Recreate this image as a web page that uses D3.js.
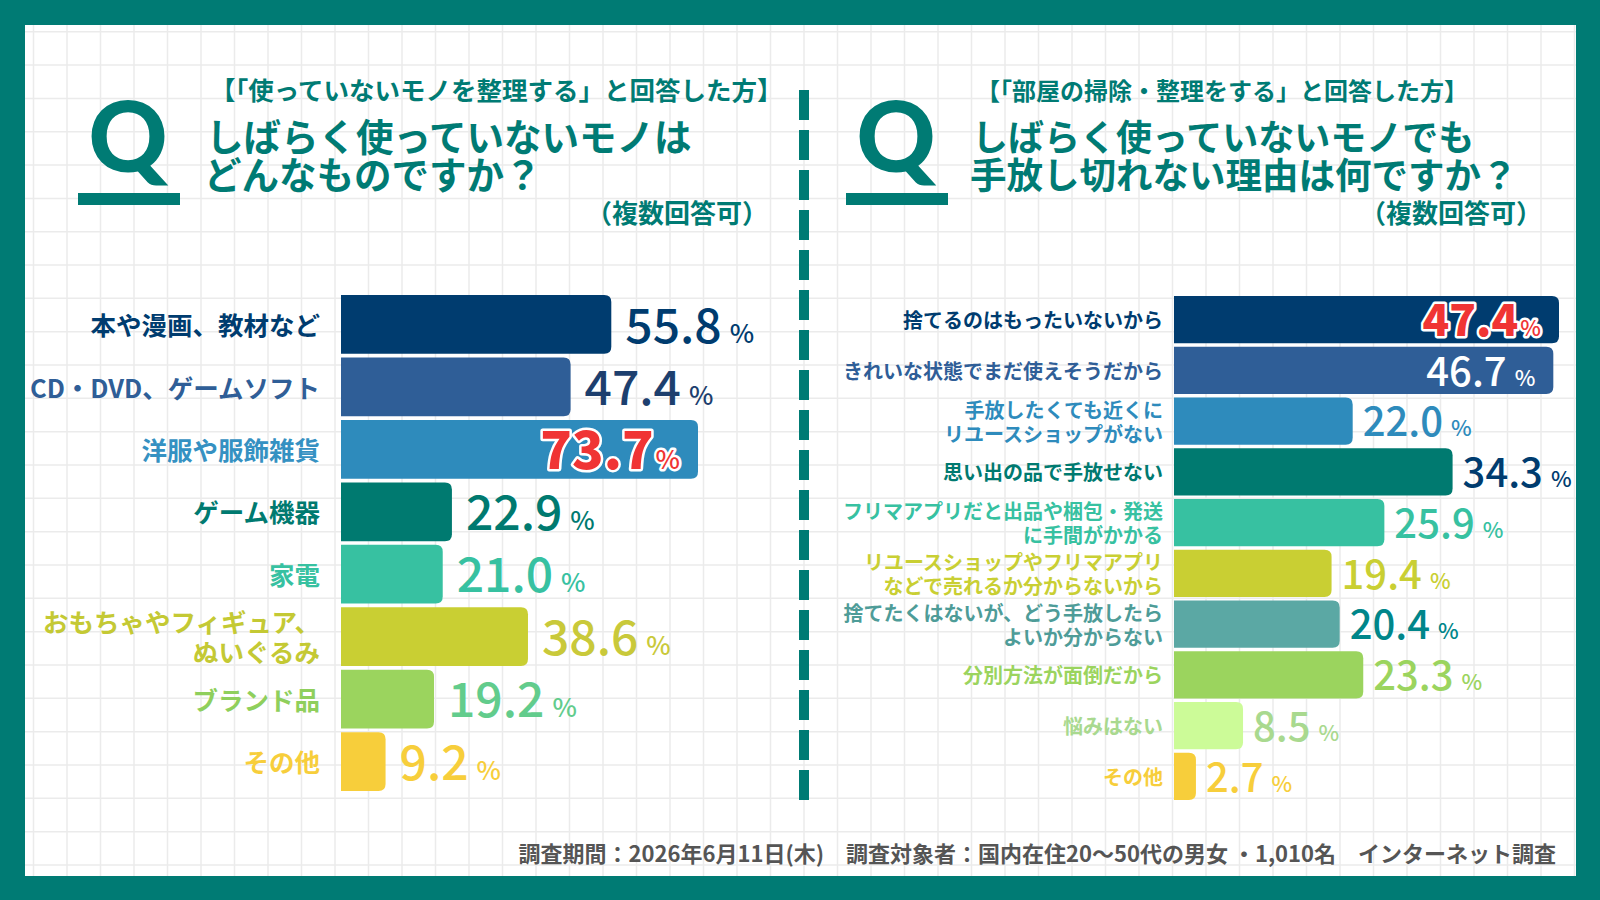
<!DOCTYPE html>
<html>
<head>
<meta charset="utf-8">
<script src="https://cdn.jsdelivr.net/npm/d3@7"></script>
<style>
  body { margin: 0; background: #ffffff; }
  svg { display: block; }
  text { font-family: "Noto Sans CJK JP", "Noto Sans", sans-serif; }
</style>
</head>
<body>
<svg id="chart" width="1600" height="900"></svg>
<script>
// ---- data ----
var leftCategories = ["本や漫画、教材など", "CD・DVD、ゲームソフト", "洋服や服飾雑貨", "ゲーム機器",
    "家電", "おもちゃやフィギュア、\nぬいぐるみ", "ブランド品", "その他"];
var leftValues = [55.8, 47.4, 73.7, 22.9, 21.0, 38.6, 19.2, 9.2];

var rightCategories = ["捨てるのはもったいないから", "きれいな状態でまだ使えそうだから",
    "手放したくても近くに\nリユースショップがない", "思い出の品で手放せない",
    "フリマアプリだと出品や梱包・発送\nに手間がかかる", "リユースショップやフリマアプリ\nなどで売れるか分からないから",
    "捨てたくはないが、どう手放したら\nよいか分からない", "分別方法が面倒だから", "悩みはない", "その他"];
var rightValues = [47.4, 46.7, 22.0, 34.3, 25.9, 19.4, 20.4, 23.3, 8.5, 2.7];

var leftHeading = ["【「使っていないモノを整理する」と回答した方】", "しばらく使っていないモノは", "どんなものですか？"];
var rightHeading = ["【「部屋の掃除・整理をする」と回答した方】", "しばらく使っていないモノでも", "手放し切れない理由は何ですか？"];
var noteText = "（複数回答可）";
var footerText = "調査期間：2026年6月11日(木)　調査対象者：国内在住20〜50代の男女 ・1,010名　インターネット調査";

// ---- styles ----
var teal = "#007b74",
    red = "#f03434";
var leftBarColors = ["#003c6f", "#2f5e97", "#2e8bbc", "#007a70", "#37c1a1", "#c9cf33", "#9bd45e", "#f7ce3b"];
var leftLabelColors = ["#003c6f", "#2f5e97", "#3591c2", "#007a70", "#37c1a1", "#c4c934", "#8fcf5c", "#f7ce3b"];
var leftValueColors = ["#003c6f", "#1d3f6e", red, "#007a70", "#37c1a1", "#c9c93a", "#62cc8c", "#f7ce3b"];
var rightBarColors = ["#003c6f", "#2f5e97", "#2e8bbc", "#007a70", "#37c1a1", "#c9cf33", "#5ba8a4", "#9bd45e", "#ccfb98", "#f7ce3b"];
var rightLabelColors = ["#003c6f", "#2f5e97", "#2e8bbc", "#007a70", "#37c1a1", "#c9cf33", "#4e9c98", "#9bd45e", "#a9d98f", "#f7ce3b"];
var rightValueColors = [red, "#ffffff", "#2e8bbc", "#003c6f", "#37c1a1", "#c9cf33", "#00868a", "#9bd45e", "#a9d98f", "#f7ce3b"];

var svg = d3.select("#chart");

// frame + grid
svg.append("rect").attr("width", 1600).attr("height", 900).attr("fill", teal);
svg.append("rect").attr("x", 25).attr("y", 25).attr("width", 1551).attr("height", 851).attr("fill", "#ffffff");

var grid = svg.append("g").attr("stroke", "#ebebeb").attr("stroke-width", 1.5);
grid.selectAll("line.v").data(d3.range(1, 48)).enter().append("line")
    .attr("x1", function (d) { return d * 33.5; })
    .attr("x2", function (d) { return d * 33.5; })
    .attr("y1", 25).attr("y2", 876);
grid.selectAll("line.h").data(d3.range(1, 27)).enter().append("line")
    .attr("y1", function (d) { return d * 33.33 - 1.6; })
    .attr("y2", function (d) { return d * 33.33 - 1.6; })
    .attr("x1", 25).attr("x2", 1576);

// dashed divider
svg.append("line")
    .attr("x1", 804).attr("x2", 804).attr("y1", 90).attr("y2", 800)
    .attr("stroke", teal).attr("stroke-width", 10)
    .attr("stroke-dasharray", "30 10");

// ---- heading block ----
function heading(qx, tx, lines, noteRight, sizes) {
    svg.append("text")
        .attr("x", qx).attr("y", 172)
        .attr("text-anchor", "middle")
        .style("font-family", "Lato, 'Open Sans', sans-serif")
        .style("font-weight", 900)
        .style("font-size", "98px")
        .attr("fill", teal)
        .text("Q");
    svg.append("rect")
        .attr("x", qx - 50).attr("y", 193).attr("width", 102).attr("height", 12)
        .attr("fill", teal);

    svg.append("text")
        .attr("x", tx).attr("y", 100)
        .style("font-weight", 700).style("font-size", sizes[0] + "px")
        .attr("fill", teal).text(lines[0]);
    svg.append("text")
        .attr("x", tx - 4).attr("y", 151)
        .style("font-weight", 700).style("font-size", sizes[1] + "px")
        .attr("fill", teal).text(lines[1]);
    svg.append("text")
        .attr("x", tx - 6).attr("y", 189)
        .style("font-weight", 700).style("font-size", sizes[2] + "px")
        .attr("fill", teal).text(lines[2]);
    svg.append("text")
        .attr("x", noteRight).attr("y", 223)
        .attr("text-anchor", "end")
        .style("font-weight", 700).style("font-size", "26px")
        .attr("fill", teal).text(noteText);
}

heading(128, 210, leftHeading, 768, [25.5, 37.5, 37.5]);
heading(896, 976, rightHeading, 1542, [24, 36, 36.5]);

// ---- bar chart ----
function barPath(x0, y0, w, h, r) {
    r = Math.min(r, w / 2, h / 2);
    return "M" + x0 + "," + y0 +
        "H" + (x0 + w - r) +
        "Q" + (x0 + w) + "," + y0 + " " + (x0 + w) + "," + (y0 + r) +
        "V" + (y0 + h - r) +
        "Q" + (x0 + w) + "," + (y0 + h) + " " + (x0 + w - r) + "," + (y0 + h) +
        "H" + x0 + "Z";
}

function drawBars(opts) {
    var data = opts.categories.map(function (c, i) { return { cat: c, value: opts.values[i], i: i }; });
    var maxV = d3.max(opts.values);

    var x = d3.scaleLinear().domain([0, maxV]).range(opts.xRange);
    var y = d3.scaleBand().domain(opts.categories).range(opts.yRange).paddingInner(opts.padding);

    var g = svg.append("g");

    g.selectAll("path.bar").data(data).enter().append("path")
        .attr("class", "bar")
        .attr("d", function (d) {
            return barPath(x(0), y(d.cat), x(d.value) - x(0), y.bandwidth(), 7);
        })
        .attr("fill", function (d) { return opts.barColors[d.i]; });

    // category labels
    var labels = g.selectAll("text.label").data(data).enter().append("text")
        .attr("class", "label")
        .attr("text-anchor", "end")
        .style("font-weight", 700)
        .style("font-size", opts.labelSize + "px")
        .attr("fill", function (d) { return opts.labelColors[d.i]; });

    labels.each(function (d) {
        var parts = d.cat.split("\n"),
            cy = y(d.cat) + y.bandwidth() / 2,
            start = cy - (parts.length - 1) * opts.lineGap / 2 + opts.labelSize * 0.42;
        d3.select(this).selectAll("tspan").data(parts).enter().append("tspan")
            .attr("x", opts.labelRight)
            .attr("y", function (p, k) { return start + k * opts.lineGap; })
            .text(function (p) { return p; });
    });

    // value labels
    g.selectAll("text.value").data(data).enter().append("text")
        .attr("class", "value")
        .each(function (d) {
            var inside = d.value >= maxV * 0.9,
                top = d.value === maxV,
                size = top ? opts.valueSize + 4 : opts.valueSize,
                t = d3.select(this);
            t.attr("x", inside ? x(d.value) - 18 : x(d.value) + opts.gap)
                .attr("y", y(d.cat) + y.bandwidth() / 2 + size * 0.38)
                .attr("text-anchor", inside ? "end" : "start")
                .attr("fill", opts.valueColors[d.i])
                .style("font-weight", top ? 900 : 500);
            if (top) {
                t.attr("stroke", "#ffffff").attr("stroke-width", 5)
                    .attr("stroke-linejoin", "round")
                    .style("paint-order", "stroke");
            }
            t.append("tspan").style("font-size", size + "px").text(d.value.toFixed(1));
            t.append("tspan").attr("dx", top ? 2 : 8)
                .style("font-size", opts.pctSize + "px")
                .style("font-weight", 500)
                .text("%");
        });
}

drawBars({
    categories: leftCategories, values: leftValues,
    xRange: [341, 698], yRange: [295, 791], padding: 0.06,
    barColors: leftBarColors, labelColors: leftLabelColors, valueColors: leftValueColors,
    labelRight: 320, labelSize: 25.5, lineGap: 30,
    valueSize: 48, pctSize: 26, gap: 14
});

drawBars({
    categories: rightCategories, values: rightValues,
    xRange: [1174, 1559], yRange: [296, 800], padding: 0.07,
    barColors: rightBarColors, labelColors: rightLabelColors, valueColors: rightValueColors,
    labelRight: 1163, labelSize: 20, lineGap: 24,
    valueSize: 40, pctSize: 22, gap: 10
});

// footer
svg.append("text")
    .attr("x", 1556).attr("y", 862)
    .attr("text-anchor", "end")
    .style("font-weight", 700)
    .style("font-size", "22px")
    .attr("fill", "#555555")
    .text(footerText);
</script>
</body>
</html>
